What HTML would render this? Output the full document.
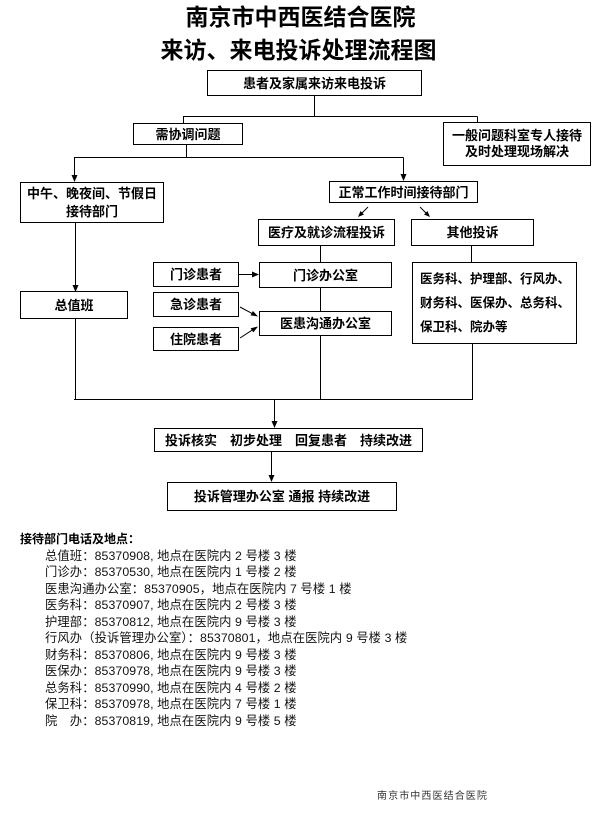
<!DOCTYPE html>
<html>
<head>
<meta charset="utf-8">
<style>
  html,body{margin:0;padding:0;background:#fff;}
  body{width:607px;height:815px;position:relative;overflow:hidden;
       font-family:"Liberation Sans","Noto Sans CJK SC",sans-serif;color:#000;}
  .t{position:absolute;left:0;width:597px;text-align:center;font-family:"Noto Sans CJK SC","WenQuanYi Zen Hei",sans-serif;font-weight:700;font-size:23px;line-height:26px;white-space:nowrap;}
  .b{position:absolute;box-sizing:border-box;border:1px solid #000;background:#fff;display:flex;align-items:center;justify-content:center;text-align:center;
     font-family:"Liberation Sans","Noto Sans CJK SC",sans-serif;font-weight:700;font-size:13px;line-height:17px;white-space:nowrap;}
  svg{position:absolute;left:0;top:0;}
  .info{position:absolute;left:45px;top:547.75px;font-size:12.3px;letter-spacing:0.1px;line-height:16.5px;white-space:pre;color:#111;}
  .hd{position:absolute;left:20px;top:531px;font-size:12px;line-height:16px;font-weight:700;font-family:"Liberation Sans","Noto Sans CJK SC",sans-serif;}
  .ft{position:absolute;left:377px;top:790px;font-size:10px;line-height:14px;letter-spacing:1.1px;color:#333;white-space:nowrap;}
</style>
</head>
<body>
<div class="t" style="top:2px;left:2px;">南京市中西医结合医院</div>
<div class="t" style="top:35px;">来访、来电投诉处理流程图</div>

<svg width="607" height="815" viewBox="0 0 607 815">
  <g stroke="#000" stroke-width="1" fill="none">
    <line x1="314.5" y1="95" x2="314.5" y2="116.5"/>
    <line x1="183" y1="116.5" x2="477.5" y2="116.5"/>
    <line x1="183.5" y1="116.5" x2="183.5" y2="123"/>
    <line x1="477.5" y1="116.5" x2="477.5" y2="122"/>
    <line x1="186.5" y1="144" x2="186.5" y2="157.5"/>
    <line x1="74" y1="157.5" x2="403.5" y2="157.5"/>
    <line x1="74.5" y1="157.5" x2="74.5" y2="176"/>
    <line x1="403.5" y1="157.5" x2="403.5" y2="175"/>
    <line x1="368" y1="207" x2="361" y2="214"/>
    <line x1="420" y1="207" x2="427" y2="214"/>
    <line x1="75.5" y1="222" x2="75.5" y2="286"/>
    <line x1="320.5" y1="245" x2="320.5" y2="262"/>
    <line x1="471.5" y1="245" x2="471.5" y2="262"/>
    <line x1="239" y1="274.5" x2="253" y2="274.5"/>
    <line x1="320.5" y1="287" x2="320.5" y2="311"/>
    <line x1="240" y1="307" x2="252" y2="313.4"/>
    <line x1="240" y1="338" x2="252" y2="330.2"/>
    <line x1="75.5" y1="318" x2="75.5" y2="399.5"/>
    <line x1="320.5" y1="335" x2="320.5" y2="399.5"/>
    <line x1="472.5" y1="343" x2="472.5" y2="399.5"/>
    <line x1="74" y1="399.5" x2="473" y2="399.5"/>
    <line x1="274.5" y1="399.5" x2="274.5" y2="422"/>
    <line x1="271.5" y1="451" x2="271.5" y2="476"/>
  </g>
  <g fill="#000">
    <polygon points="71.5,175 77.5,175 74.5,182"/>
    <polygon points="400.5,174 406.5,174 403.5,181"/>
    <polygon points="358,217 364,214.5 360.5,211"/>
    <polygon points="430,217 424,214.5 427.5,211"/>
    <polygon points="72.5,285 78.5,285 75.5,292"/>
    <polygon points="252,271.5 252,277.5 259,274.5"/>
    <polygon points="258,316.5 250.5,315.4 252.9,311"/>
    <polygon points="258,326.5 253.3,332.4 250.6,328.2"/>
    <polygon points="271.5,421 277.5,421 274.5,428"/>
    <polygon points="268.5,475 274.5,475 271.5,482"/>
  </g>
</svg>

<div class="b" style="left:207px;top:70px;width:215px;height:26px;">患者及家属来访来电投诉</div>
<div class="b" style="left:133px;top:123px;width:110px;height:22px;">需协调问题</div>
<div class="b" style="left:443px;top:122px;width:148px;height:44px;line-height:16px;">一般问题科室专人接待<br>及时处理现场解决</div>
<div class="b" style="left:20px;top:182px;width:144px;height:41px;line-height:18px;">中午、晚夜间、节假日<br>接待部门</div>
<div class="b" style="left:329px;top:181px;width:149px;height:22px;">正常工作时间接待部门</div>
<div class="b" style="left:258px;top:219px;width:137px;height:27px;">医疗及就诊流程投诉</div>
<div class="b" style="left:411px;top:219px;width:123px;height:27px;">其他投诉</div>
<div class="b" style="left:153px;top:262px;width:86px;height:25px;">门诊患者</div>
<div class="b" style="left:259px;top:262px;width:133px;height:26px;">门诊办公室</div>
<div class="b" style="left:153px;top:292px;width:86px;height:25px;">急诊患者</div>
<div class="b" style="left:259px;top:311px;width:133px;height:25px;">医患沟通办公室</div>
<div class="b" style="left:153px;top:327px;width:86px;height:24px;">住院患者</div>
<div class="b" style="left:20px;top:291px;width:108px;height:28px;">总值班</div>
<div class="b" style="left:412px;top:262px;width:165px;height:82px;justify-content:flex-start;text-align:left;padding-left:7px;font-size:12.5px;line-height:24px;">医务科、护理部、行风办、<br>财务科、医保办、总务科、<br>保卫科、院办等</div>
<div class="b" style="left:154px;top:428px;width:269px;height:24px;">投诉核实　初步处理　回复患者　持续改进</div>
<div class="b" style="left:167px;top:482px;width:230px;height:29px;">投诉管理办公室 通报 持续改进</div>

<div class="hd">接待部门电话及地点：</div>
<div class="info">总值班：85370908, 地点在医院内 2 号楼 3 楼
门诊办：85370530, 地点在医院内 1 号楼 2 楼
医患沟通办公室：85370905，地点在医院内 7 号楼 1 楼
医务科：85370907, 地点在医院内 2 号楼 3 楼
护理部：85370812, 地点在医院内 9 号楼 3 楼
行风办（投诉管理办公室）：85370801，地点在医院内 9 号楼 3 楼
财务科：85370806, 地点在医院内 9 号楼 3 楼
医保办：85370978, 地点在医院内 9 号楼 3 楼
总务科：85370990, 地点在医院内 4 号楼 2 楼
保卫科：85370978, 地点在医院内 7 号楼 1 楼
院　办：85370819, 地点在医院内 9 号楼 5 楼</div>

<div class="ft">南京市中西医结合医院</div>
</body>
</html>
